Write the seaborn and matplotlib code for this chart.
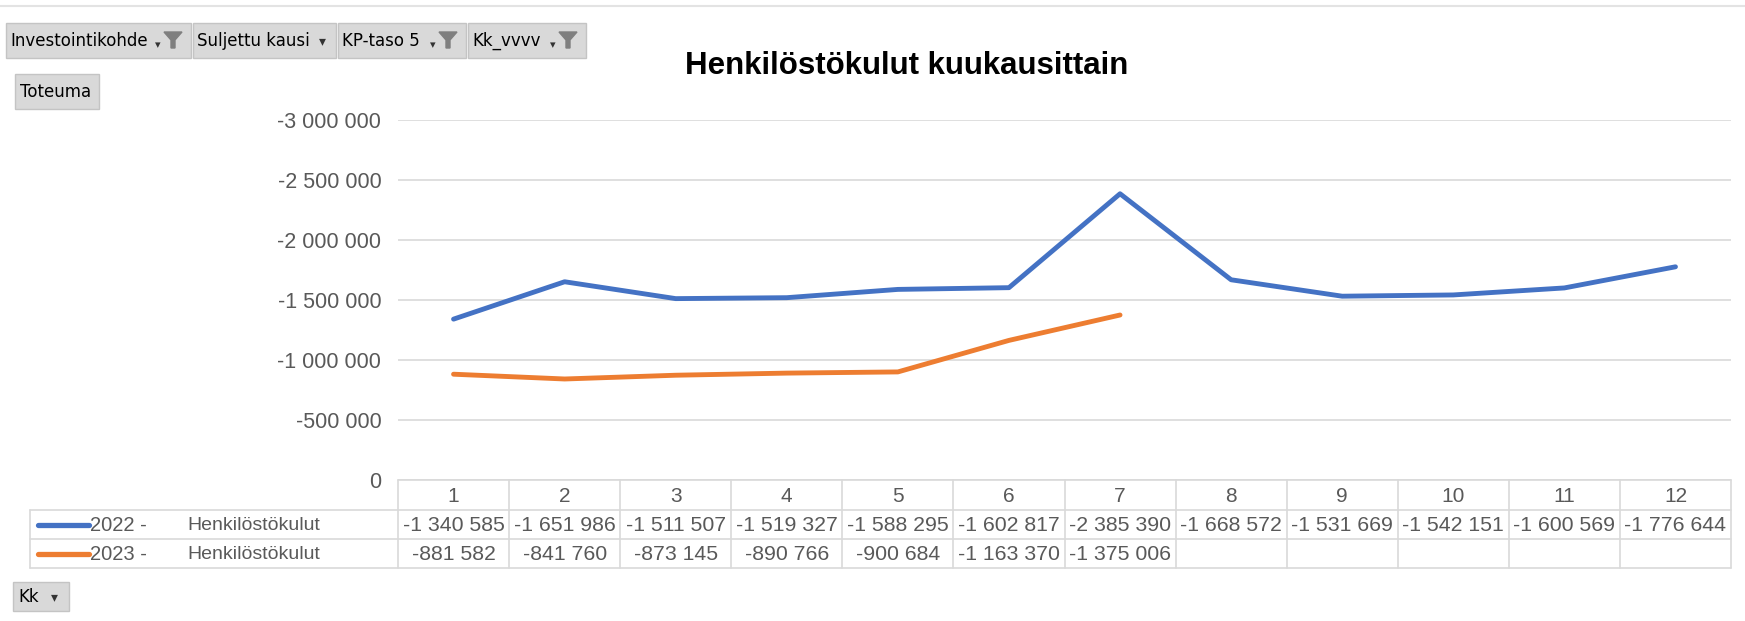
import matplotlib
matplotlib.use("Agg")
import matplotlib.pyplot as plt
from matplotlib.patches import Rectangle, Polygon
from matplotlib.ticker import FuncFormatter, MultipleLocator
import seaborn as sns
import pandas as pd

months = [1, 2, 3, 4, 5, 6, 7, 8, 9, 10, 11, 12]
kulut_2022 = [-1340585, -1651986, -1511507, -1519327, -1588295, -1602817,
              -2385390, -1668572, -1531669, -1542151, -1600569, -1776644]
kulut_2023 = [-881582, -841760, -873145, -890766, -900684, -1163370, -1375006]
series_names = ["2022 -", "2023 -"]
row_label = "Henkilöstökulut"
filter_buttons = ["Investointikohde", "Suljettu kausi", "KP-taso 5", "Kk_vvvv"]

sns.set_theme(style="white")
plt.rcParams["font.family"] = ["Liberation Sans", "DejaVu Sans"]

W, H = 1745, 621
fig = plt.figure(figsize=(W / 100, H / 100), dpi=100)
gray_txt = "#595959"
grid_c = "#D9D9D9"
colors = {"2022 -": "#4472C4", "2023 -": "#ED7D31"}


def box(l, t, r, b):
    return [l / W, 1 - b / H, (r - l) / W, (b - t) / H]


# background layer in pixel coords
bg = fig.add_axes([0, 0, 1, 1], zorder=0)
bg.set_xlim(0, W)
bg.set_ylim(H, 0)
bg.axis("off")

# main chart
left, right, top, bottom = 398, 1731, 120, 480
ax = fig.add_axes(box(left, top, right, bottom), zorder=2)
ax.patch.set_alpha(0)

df = pd.DataFrame({
    "kk": months + months[:len(kulut_2023)],
    "arvo": kulut_2022 + kulut_2023,
    "sarja": [series_names[0]] * len(kulut_2022) + [series_names[1]] * len(kulut_2023),
})
sns.lineplot(data=df, x="kk", y="arvo", hue="sarja", palette=colors,
             linewidth=3.5, legend=False, ax=ax, solid_capstyle="round")

ax.set_xlim(0.5, 12.5)
ax.set_ylim(0, -3000000)
ax.yaxis.set_major_locator(MultipleLocator(500000))
ax.yaxis.set_major_formatter(FuncFormatter(lambda v, p: f"{int(round(v)):,}".replace(",", " ")))
ax.grid(axis="y", color=grid_c, linewidth=1.2)
ax.set_axisbelow(True)
for s in ax.spines.values():
    s.set_visible(False)
ax.set_xticks([])
ax.set_xlabel("")
ax.set_ylabel("")
ax.tick_params(axis="y", length=0, pad=12, labelsize=15.5, labelcolor=gray_txt)

fig.text(907 / W, 1 - 66 / H, "Henkilöstökulut kuukausittain",
         ha="center", va="center", fontsize=22.5, fontweight="bold", color="black")

# data table (shares x with chart)
t_top, r1, r2, t_bot = 480, 510, 539, 568
tab = fig.add_axes(box(left, t_top, right, t_bot), sharex=ax, zorder=2)
tab.set_ylim(t_bot, t_top)
tab.axis("off")
tab.patch.set_alpha(0)
for m in months:
    tab.text(m, (t_top + r1) / 2 + 1, str(m), ha="center", va="center",
             fontsize=15, color=gray_txt)
for m, v in zip(months, kulut_2022):
    tab.text(m, (r1 + r2) / 2 + 1, f"{v:,}".replace(",", " "), ha="center", va="center",
             fontsize=15.3, color=gray_txt)
for m, v in zip(months, kulut_2023):
    tab.text(m, (r2 + t_bot) / 2 + 1, f"{v:,}".replace(",", " "), ha="center", va="center",
             fontsize=15.3, color=gray_txt)
for m in months + [13]:
    tab.plot([m - 0.5, m - 0.5], [t_top, t_bot], color=grid_c, lw=1.2, clip_on=False)

# table borders + legend cells
tl = 30
bg.plot([left, right], [t_top, t_top], color=grid_c, lw=1.2)
for y in (r1, r2, t_bot):
    bg.plot([tl, right], [y, y], color=grid_c, lw=1.2)
bg.plot([tl, tl], [r1, t_bot], color=grid_c, lw=1.2)
for name, yy in zip(series_names, [(r1 + r2) / 2, (r2 + t_bot) / 2]):
    bg.plot([38, 89], [yy, yy], color=colors[name], lw=3.8, solid_capstyle="round")
    bg.text(90, yy + 1, name, ha="left", va="center", fontsize=14.5, color=gray_txt)
    bg.text(187, yy + 1, row_label, ha="left", va="center", fontsize=14, color=gray_txt)

# top separator line
bg.plot([0, W], [6, 6], color="#E3E3E3", lw=1.5)


def funnel(x, y):
    bg.add_patch(Polygon([[x - 9, y - 8], [x + 9, y - 8], [x + 2, y], [x + 2, y + 8],
                          [x - 2, y + 8], [x - 2, y]], closed=True, color="#7F7F7F"))


# filter buttons
btns = [(6, 191), (193, 336), (338, 466), (468, 586)]
for (l, r), label in zip(btns, filter_buttons):
    bg.add_patch(Rectangle((l, 23), r - l, 35, facecolor="#D9D9D9", edgecolor="#C4C4C4", lw=1))
    bg.text(l + 4, 41, label, ha="left", va="center", fontsize=12, color="black",
            family=["DejaVu Sans"])
    if label == "Suljettu kausi":
        bg.text(r - 14, 41, "▾", ha="center", va="center", fontsize=10, color="#333333",
                family=["DejaVu Sans"])
    else:
        bg.text(r - 33, 45, "▾", ha="center", va="center", fontsize=8, color="#333333",
                family=["DejaVu Sans"])
        funnel(r - 18, 40)

bg.add_patch(Rectangle((15, 74), 84, 35, facecolor="#D9D9D9", edgecolor="#C4C4C4", lw=1))
bg.text(20, 92, "Toteuma", ha="left", va="center", fontsize=12, color="black",
        family=["DejaVu Sans"])

bg.add_patch(Rectangle((13, 582), 56, 29, facecolor="#D9D9D9", edgecolor="#C4C4C4", lw=1))
bg.text(18, 597, "Kk", ha="left", va="center", fontsize=12, color="black",
        family=["DejaVu Sans"])
bg.text(54, 597, "▾", ha="center", va="center", fontsize=10, color="#333333",
        family=["DejaVu Sans"])

fig.savefig("out.png", dpi=100)
